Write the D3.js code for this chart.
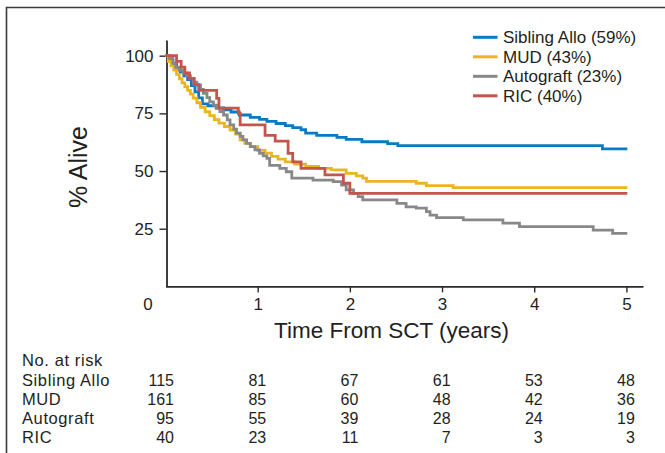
<!DOCTYPE html>
<html>
<head>
<meta charset="utf-8">
<script src="https://cdn.jsdelivr.net/npm/d3@7"></script>
<style>
  html, body { margin: 0; padding: 0; background: #fff; }
  svg { display: block; font-family: "Liberation Sans", Arial, Helvetica, sans-serif; }
</style>
</head>
<body>
<svg id="chart" width="665" height="453"></svg>
<script>
// Kaplan-Meier overall survival by transplant type (years after SCT, % alive)
const seriesNames = ["Sibling Allo", "MUD", "Autograft", "RIC"];
const legendLabels = ["Sibling Allo (59%)", "MUD (43%)", "Autograft (23%)", "RIC (40%)"];
const seriesColors = ["#0a7bc2", "#ebb521", "#888888", "#c2564f"];

const siblingTimes = [0, 0.04, 0.08, 0.12, 0.16, 0.20, 0.24, 0.28, 0.32, 0.36, 0.40, 0.46, 0.55, 0.63, 0.71, 0.80, 0.92, 1.02, 1.10, 1.20, 1.30, 1.38, 1.47, 1.52, 1.64, 1.86, 1.96, 2.13, 2.41, 2.52, 4.74];
const siblingSurv  = [100, 98.3, 96.5, 94.8, 93.0, 91.3, 89.6, 87.0, 84.3, 81.7, 79.1, 78.3, 77.4, 76.5, 75.6, 74.3, 73.3, 72.4, 71.5, 70.6, 69.7, 68.8, 67.9, 66.4, 65.5, 64.6, 63.7, 62.7, 61.9, 61.0, 59.6];

const mudTimes = [0, 0.03, 0.06, 0.09, 0.12, 0.15, 0.18, 0.21, 0.24, 0.27, 0.30, 0.34, 0.38, 0.43, 0.48, 0.53, 0.58, 0.64, 0.70, 0.76, 0.81, 0.86, 0.92, 1.00, 1.08, 1.15, 1.22, 1.30, 1.40, 1.52, 1.66, 1.80, 1.96, 2.07, 2.14, 2.18, 2.72, 2.83, 3.12];
const mudSurv  = [100, 97.5, 95.6, 93.8, 91.9, 90.0, 88.2, 86.6, 85.0, 83.3, 81.6, 79.6, 77.6, 75.7, 74.0, 72.3, 70.8, 69.3, 67.8, 66.0, 63.5, 62.0, 60.6, 59.0, 57.8, 56.4, 55.2, 54.0, 53.0, 52.0, 51.2, 50.5, 49.0, 47.9, 46.9, 45.5, 44.7, 43.7, 42.8];

const autoTimes = [0, 0.04, 0.08, 0.11, 0.15, 0.19, 0.23, 0.27, 0.31, 0.34, 0.38, 0.41, 0.45, 0.48, 0.52, 0.555, 0.59, 0.63, 0.67, 0.70, 0.74, 0.77, 0.81, 0.84, 0.88, 0.92, 0.97, 1.02, 1.06, 1.10, 1.13, 1.24, 1.31, 1.37, 1.60, 1.82, 1.91, 1.96, 2.04, 2.09, 2.14, 2.51, 2.61, 2.72, 2.83, 2.87, 2.94, 3.23, 3.66, 3.84, 4.64, 4.85];
const autoSurv  = [100, 98.9, 96.8, 95.0, 93.7, 92.4, 91.3, 90.2, 88.5, 87.3, 85.4, 83.7, 81.8, 80.0, 78.6, 77.2, 75.8, 74.3, 72.2, 70.0, 68.2, 66.4, 65.0, 63.5, 62.0, 60.6, 59.2, 57.7, 56.6, 55.5, 52.5, 51.2, 49.7, 46.9, 46.1, 45.4, 43.9, 41.8, 40.3, 38.9, 37.5, 36.0, 34.5, 33.9, 32.4, 30.9, 29.8, 28.8, 27.4, 25.9, 24.4, 23.0];

const ricTimes = [0, 0.12, 0.17, 0.21, 0.26, 0.31, 0.36, 0.555, 0.58, 0.79, 0.81, 1.08, 1.19, 1.33, 1.38, 1.47, 1.73, 1.93, 2.00];
const ricSurv  = [100, 97.5, 95.0, 92.5, 90.0, 87.5, 85.0, 81.5, 77.3, 75.0, 70.0, 65.5, 63.0, 57.7, 54.0, 51.2, 48.3, 44.7, 40.3];

const followUpEnd = 5.01;

const xTicks = [1, 2, 3, 4, 5];
const yTicks = [25, 50, 75, 100];

const riskTimes = [0, 1, 2, 3, 4, 5];
const riskSibling = [115, 81, 67, 61, 53, 48];
const riskMud = [161, 85, 60, 48, 42, 36];
const riskAuto = [95, 55, 39, 28, 24, 19];
const riskRic = [40, 23, 11, 7, 3, 3];

const seriesTimes = [siblingTimes, mudTimes, autoTimes, ricTimes];
const seriesSurv = [siblingSurv, mudSurv, autoSurv, ricSurv];
const riskCounts = [riskSibling, riskMud, riskAuto, riskRic];

const svg = d3.select("#chart");
const ink = "#231f20";

svg.append("rect").attr("width", 665).attr("height", 453).attr("fill", "#fff");

// outer frame (top and left rules)
svg.append("path")
  .attr("d", "M6.5,453 V7.5 H665")
  .attr("fill", "none").attr("stroke", "#3a3a3a").attr("stroke-width", 1.6);

const x = d3.scaleLinear().domain([0, 5.18]).range([165.5, 643]);
const y = d3.scaleLinear().domain([0, 106.8]).range([286.4, 40]);

// axes
const axisColor = "#2a2a2a";
const gx = svg.append("g").attr("transform", `translate(0,${y(0)})`)
  .call(d3.axisBottom(x).tickValues(xTicks).tickSize(6).tickSizeOuter(0).tickPadding(6).tickFormat(d3.format("d")));
const gy = svg.append("g").attr("transform", `translate(${x(0) + 1},0)`)
  .call(d3.axisLeft(y).tickValues(yTicks).tickSize(7).tickSizeOuter(0).tickPadding(5).tickFormat(d3.format("d")));

[gx, gy].forEach(g => {
  g.select(".domain").attr("stroke", axisColor).attr("stroke-width", 1.8);
  g.selectAll(".tick line").attr("stroke", axisColor).attr("stroke-width", 1.4);
  g.selectAll(".tick text").attr("fill", ink).attr("font-size", 17)
    .attr("font-family", "'Liberation Sans', Arial, sans-serif");
});
gx.selectAll(".tick text").attr("dy", null).attr("y", 24);
gy.selectAll(".tick text").attr("x", -13);

// shared origin label
svg.append("text").attr("x", 148).attr("y", 310).attr("text-anchor", "middle")
  .attr("font-size", 17).attr("fill", ink).text("0");

// axis titles
svg.append("text").attr("x", 391.5).attr("y", 337.5).attr("text-anchor", "middle")
  .attr("font-size", 22.5).attr("fill", ink).text("Time From SCT (years)");
svg.append("text").attr("transform", "translate(86.5,167) rotate(-90)").attr("text-anchor", "middle")
  .attr("font-size", 25).attr("fill", ink).text("% Alive");

// survival curves
const line = d3.line()
  .x(d => x(d[0]))
  .y(d => y(d[1]))
  .curve(d3.curveStepAfter);

seriesNames.forEach((name, i) => {
  const pts = seriesTimes[i].map((t, j) => [t, seriesSurv[i][j]]);
  pts.push([followUpEnd, seriesSurv[i][seriesSurv[i].length - 1]]);
  svg.append("path")
    .datum(pts)
    .attr("fill", "none")
    .attr("stroke", seriesColors[i])
    .attr("stroke-width", 2.8)
    .attr("stroke-linejoin", "miter")
    .attr("d", line);
});

// legend
const legend = svg.append("g").attr("transform", "translate(473,37.3)");
legendLabels.forEach((lab, i) => {
  const g = legend.append("g").attr("transform", `translate(0,${i * 19.5})`);
  g.append("line").attr("x1", 0).attr("x2", 24.5).attr("y1", 0).attr("y2", 0)
    .attr("stroke", seriesColors[i]).attr("stroke-width", 3);
  g.append("text").attr("x", 30).attr("y", 6).attr("font-size", 17)
    .attr("fill", ink).text(lab);
});

// numbers at risk
const table = svg.append("g");
table.append("text").attr("x", 22).attr("y", 366).attr("font-size", 16.5)
  .attr("letter-spacing", 0.6).attr("fill", ink).text("No. at risk");
seriesNames.forEach((name, i) => {
  const rowY = 385.5 + i * 19;
  table.append("text").attr("x", 22).attr("y", rowY).attr("font-size", 16.5)
    .attr("letter-spacing", 0.6).attr("fill", ink).text(name);
  riskTimes.forEach((t, j) => {
    table.append("text").attr("x", x(t) + 8.5).attr("y", rowY)
      .attr("text-anchor", "end").attr("font-size", 16).attr("fill", ink)
      .text(riskCounts[i][j]);
  });
});
</script>
</body>
</html>
